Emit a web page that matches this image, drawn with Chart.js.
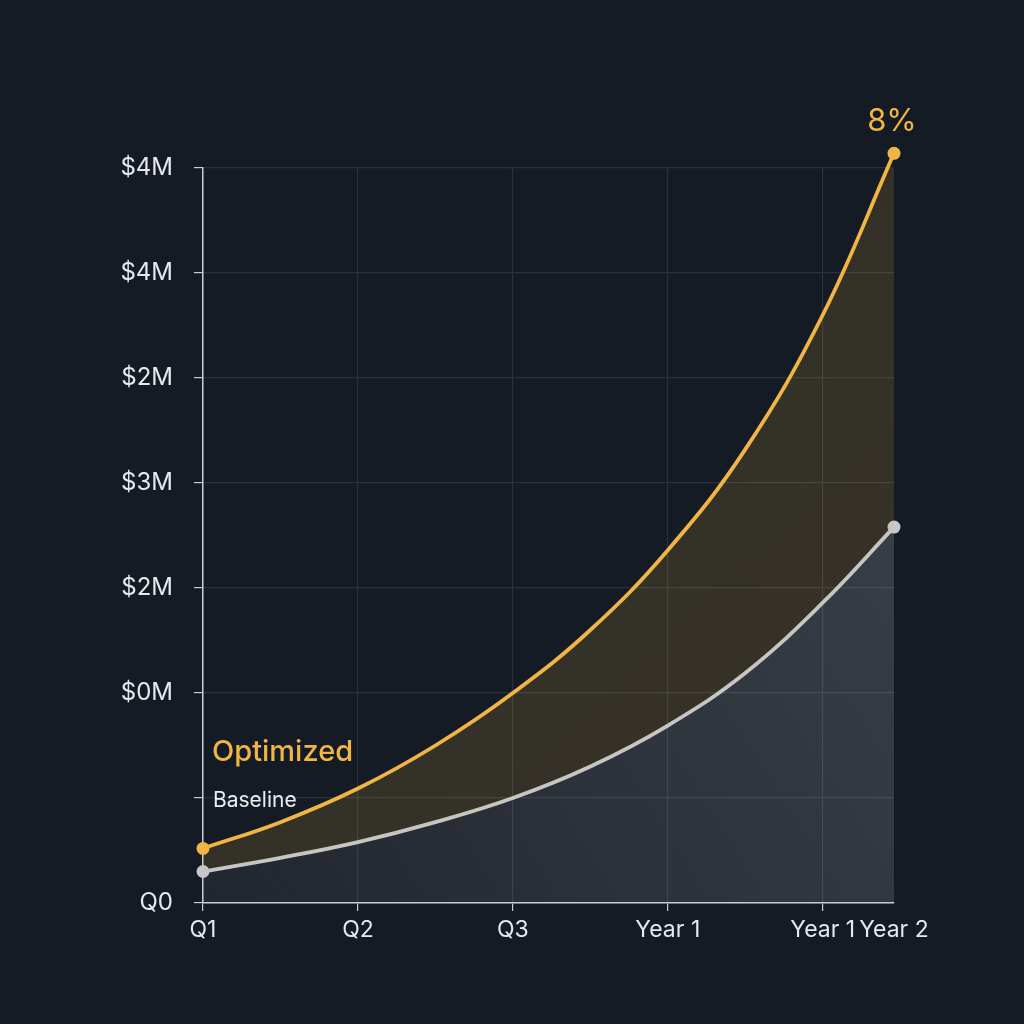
<!DOCTYPE html>
<html>
<head>
<meta charset="utf-8">
<script src="https://cdn.jsdelivr.net/npm/chart.js@4.4.1/dist/chart.umd.min.js"></script>
<style>
  html, body { margin: 0; padding: 0; background: #151b24; }
  #wrap { width: 1024px; height: 1024px; }
</style>
</head>
<body>
<div id="wrap"><canvas id="chart" width="1024" height="1024"></canvas></div>
<script>
// Dados (unidades do eixo: 1 = uma linha de grade)
const xPositions = [0, 0.5, 1, 1.5, 2, 2.5, 3, 3.5, 4, 4.46];
const optimizedValues = [0.52, 0.77, 1.09, 1.50, 2.00, 2.60, 3.36, 4.32, 5.60, 7.14];
const baselineValues = [0.30, 0.43, 0.58, 0.77, 1.00, 1.30, 1.69, 2.19, 2.86, 3.58];

const xTickPositions = [0, 1, 2, 3, 4, 4.46];
const xTickLabels = ['Q1', 'Q2', 'Q3', 'Year 1', 'Year 1', 'Year 2'];
const yTickLabels = ['Q0', '', '$0M', '$2M', '$3M', '$2M', '$4M', '$4M'];
const endLabel = '8%';

const gold = '#f0b545';
const grey = '#c4c7cb';
const gridColor = '#2a313b';
const axisColor = '#c9cdd2';
const textColor = '#e6e8eb';

function endPoints(ctx) {
    const n = ctx.dataset.data.length;
    return (ctx.dataIndex === 0 || ctx.dataIndex === n - 1) ? 6.5 : 0;
}

function vGradient(ctx, top, bottom) {
    const area = ctx.chart.chartArea;
    if (!area) return top;
    const g = ctx.chart.ctx.createLinearGradient(area.left, area.top, area.right, area.bottom);
    g.addColorStop(0, top);
    g.addColorStop(1, bottom);
    return g;
}

function baseGradient(ctx) {
    const area = ctx.chart.chartArea;
    if (!area) return 'rgba(200,200,200,0.12)';
    const g = ctx.chart.ctx.createLinearGradient(area.left, area.bottom, area.right, area.top + 300);
    g.addColorStop(0, 'rgba(190,192,196,0.07)');
    g.addColorStop(1, 'rgba(190,192,196,0.22)');
    return g;
}

// Textos: rótulos das séries, valor final e o ponto final que fica fora da área
const labelsPlugin = {
    id: 'labels',
    afterDatasetsDraw(chart) {
        const c = chart.ctx;
        const area = chart.chartArea;
        const yScale = chart.scales.y;
        c.save();
        const meta = chart.getDatasetMeta(0);
        const last = meta.data[meta.data.length - 1];
        if (last.y < area.top) {
            c.beginPath();
            c.arc(last.x, last.y, 6.5, 0, Math.PI * 2);
            c.fillStyle = gold;
            c.fill();
        }
        c.textBaseline = 'middle';
        c.textAlign = 'left';
        c.fillStyle = gold;
        c.font = '500 29px Inter';
        c.fillText('Optimized', area.left + 9, yScale.getPixelForValue(1.44));
        c.fillStyle = '#eceef0';
        c.font = '21px Inter';
        c.fillText('Baseline', area.left + 10, yScale.getPixelForValue(0.97));
        c.textAlign = 'center';
        c.fillStyle = gold;
        c.font = '31px Inter';
        c.fillText(endLabel, last.x - 2, last.y - 32);
        c.restore();
    }
};

const ctx = document.getElementById('chart').getContext('2d');
new Chart(ctx, {
    type: 'line',
    data: {
        datasets: [
            {
                label: 'Optimized',
                data: xPositions.map((x, i) => ({x: x, y: optimizedValues[i]})),
                borderColor: gold,
                borderWidth: 3.8,
                backgroundColor: (c) => vGradient(c, 'rgba(240,181,69,0.12)', 'rgba(240,181,69,0.16)'),
                fill: '+1',
                tension: 0.4,
                pointRadius: endPoints,
                pointBackgroundColor: gold,
                pointBorderWidth: 0,
                clip: false
            },
            {
                label: 'Baseline',
                data: xPositions.map((x, i) => ({x: x, y: baselineValues[i]})),
                borderColor: grey,
                borderWidth: 3.8,
                backgroundColor: baseGradient,
                fill: 'origin',
                tension: 0.4,
                pointRadius: endPoints,
                pointBackgroundColor: grey,
                pointBorderWidth: 0,
                clip: false
            }
        ]
    },
    options: {
        responsive: false,
        animation: false,
        layout: {
            padding: { top: 168, right: 130, left: 0, bottom: 0 }
        },
        plugins: {
            legend: { display: false },
            tooltip: { enabled: false }
        },
        scales: {
            x: {
                type: 'linear',
                min: 0,
                max: 4.46,
                afterBuildTicks: (s) => { s.ticks = xTickPositions.map(v => ({value: v})); },
                afterFit: (s) => { s.height = 121; },
                border: { color: axisColor, width: 1.5 },
                grid: {
                    color: (c) => c.index === xTickPositions.length - 1 ? 'rgba(0,0,0,0)' : gridColor,
                    tickColor: (c) => c.index === xTickPositions.length - 1 ? 'rgba(0,0,0,0)' : axisColor,
                    tickLength: 8,
                    lineWidth: 1.2
                },
                ticks: {
                    color: textColor,
                    font: { family: 'Inter', size: 23 },
                    padding: 5,
                    maxRotation: 0,
                    autoSkip: false,
                    callback: (v, i) => xTickLabels[i]
                }
            },
            y: {
                min: 0,
                max: 7,
                afterFit: (s) => { s.width = 203; },
                border: { color: axisColor, width: 1.5 },
                grid: {
                    color: gridColor,
                    tickColor: axisColor,
                    tickLength: 9,
                    lineWidth: 1.2
                },
                ticks: {
                    stepSize: 1,
                    color: textColor,
                    font: { family: 'Inter', size: 24 },
                    padding: 21,
                    callback: (v) => yTickLabels[v]
                }
            }
        }
    },
    plugins: [labelsPlugin]
});
</script>
</body>
</html>
